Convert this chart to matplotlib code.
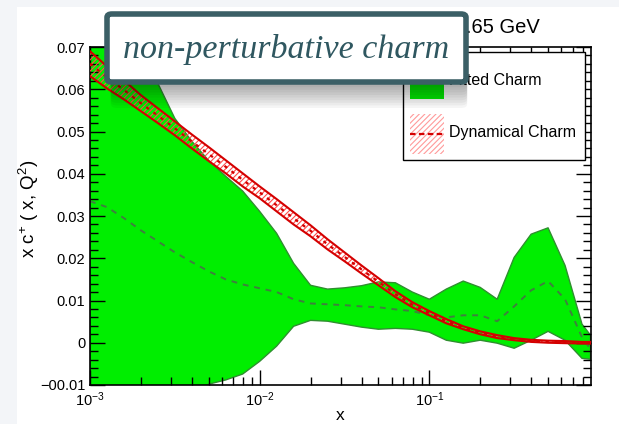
import numpy as np
import matplotlib
matplotlib.use("Agg")
import matplotlib.pyplot as plt
from matplotlib.patches import Rectangle, FancyBboxPatch
from matplotlib.ticker import LogLocator, MultipleLocator, FuncFormatter, NullFormatter

plt.rcParams['font.family'] = ['Liberation Sans', 'DejaVu Sans']
plt.rcParams['mathtext.fontset'] = 'custom'
plt.rcParams['mathtext.rm'] = 'Liberation Sans'
plt.rcParams['mathtext.it'] = 'Liberation Sans:italic'
plt.rcParams['hatch.linewidth'] = 0.8

# log10(x) grid
logx = [-3.0, -2.9, -2.8, -2.7, -2.6, -2.5, -2.4, -2.3, -2.2, -2.1, -2.0,
        -1.9, -1.8, -1.7, -1.6, -1.5, -1.4, -1.3, -1.2, -1.1, -1.0,
        -0.9, -0.8, -0.7, -0.6, -0.5, -0.4, -0.3, -0.2, -0.1, -0.05]
x = 10.0 ** np.array(logx)

# Fitted charm (green band + central value)
fit_up = [0.080, 0.074, 0.069, 0.065, 0.0614, 0.0531, 0.0477, 0.0431, 0.0394, 0.0359, 0.0311,
          0.0259, 0.0188, 0.0136, 0.0127, 0.0130, 0.0135, 0.0144, 0.0142, 0.0120, 0.0103,
          0.0127, 0.0146, 0.0131, 0.0103, 0.0202, 0.0257, 0.0272, 0.0183, 0.0044, 0.0018]
fit_lo = [-0.025, -0.024, -0.022, -0.020, -0.018, -0.015, -0.012, -0.0098, -0.0088, -0.0074, -0.0044,
          -0.0008, 0.0039, 0.0053, 0.0051, 0.0044, 0.0037, 0.0032, 0.0034, 0.0032, 0.0025,
          0.0006, -0.0001, 0.0006, -0.0001, -0.0013, 0.0006, 0.0027, 0.0006, -0.0037, -0.0039]
fit_cv = [0.0335, 0.0321, 0.0295, 0.0266, 0.0240, 0.0214, 0.0191, 0.0169, 0.0150, 0.0138, 0.0129,
          0.0120, 0.0103, 0.0093, 0.0091, 0.0089, 0.0086, 0.0084, 0.0079, 0.0075, 0.0065,
          0.0060, 0.0065, 0.0065, 0.0051, 0.0086, 0.0124, 0.0146, 0.0103, 0.0013, -0.0015]

# Dynamical charm (red band)
dyn_up = [0.0690, 0.0654, 0.0621, 0.0586, 0.0555, 0.0524, 0.0493, 0.0463, 0.0432, 0.0401, 0.0370,
          0.0340, 0.0309, 0.0278, 0.0245, 0.0214, 0.0183, 0.0153, 0.0122, 0.0096, 0.0075,
          0.0056, 0.0039, 0.0027, 0.0018, 0.0011, 0.0007, 0.0005, 0.0004, 0.0002, 0.0002]
dyn_lo = [0.0631, 0.0602, 0.0576, 0.0548, 0.0520, 0.0491, 0.0460, 0.0430, 0.0401, 0.0370, 0.0342,
          0.0311, 0.0280, 0.0252, 0.0221, 0.0193, 0.0164, 0.0136, 0.0108, 0.0084, 0.0065,
          0.0046, 0.0032, 0.0020, 0.0011, 0.0006, 0.0002, 0.0000, -0.0001, -0.0002, -0.0002]
dyn_cv = [(a + b) / 2 for a, b in zip(dyn_up, dyn_lo)]

green = '#00ee00'
green_edge = '#2f8f2f'
red = '#d40000'

fig = plt.figure(figsize=(6.19, 4.24), dpi=100)
fig.patch.set_facecolor('#f3f5f8')
# white slide panel
fig.patches.append(Rectangle((17 / 619, 0), 1, 1 - 7 / 424, transform=fig.transFigure,
                             facecolor='white', edgecolor='none', zorder=-5))

ax = fig.add_axes([90 / 619, 1 - 385 / 424, 501 / 619, 338 / 424])
ax.set_facecolor('white')

ax.fill_between(x, fit_lo, fit_up, facecolor=green, edgecolor=green_edge, linewidth=1.0, zorder=1)
ax.plot(x, fit_cv, color='#3f7f3f', linestyle=(0, (3, 3)), linewidth=1.4, zorder=2)

ax.fill_between(x, dyn_lo, dyn_up, facecolor='none', edgecolor='#ff4a4a', hatch='//////',
                linewidth=0, zorder=3)
ax.plot(x, dyn_up, color=red, linewidth=1.5, zorder=4)
ax.plot(x, dyn_lo, color=red, linewidth=1.5, zorder=4)
ax.plot(x, dyn_cv, color=red, linestyle=(0, (1.5, 2.5)), linewidth=1.6, zorder=4)

ax.set_xscale('log')
ax.set_xlim(1e-3, 10 ** -0.047)
ax.set_ylim(-0.01, 0.07)

ax.xaxis.set_major_locator(LogLocator(base=10, numticks=10))
ax.xaxis.set_minor_locator(LogLocator(base=10, subs=np.arange(2, 10), numticks=20))
ax.xaxis.set_minor_formatter(NullFormatter())
ax.yaxis.set_major_locator(MultipleLocator(0.01))
ax.yaxis.set_minor_locator(MultipleLocator(0.002))
ax.yaxis.set_major_formatter(FuncFormatter(lambda v, p: '0' if abs(v) < 1e-9 else ('%.2f' % v).replace('-', '\u22120')))
ax.tick_params(which='both', direction='in', top=True, right=True, labelsize=10.5, colors='black')
ax.tick_params(which='major', length=11, width=1.0)
ax.tick_params(which='minor', length=6, width=1.0)
ax.tick_params(axis='x', pad=4)
for s in ax.spines.values():
    s.set_linewidth(1.2)

ax.set_xlabel('x', fontsize=12.5, labelpad=-1)
ax.set_ylabel('x c$^{+}$ ( x, Q$^{2}$)', fontsize=13.5)
ax.yaxis.set_label_coords(-0.097, 0.52)

# legend box drawn in axes coordinates
T = ax.transAxes
ax.add_patch(Rectangle((0.6248, 0.6657), 0.3632, 0.3195, transform=T, facecolor='white',
                       edgecolor='black', linewidth=1.0, zorder=6))
ax.add_patch(Rectangle((0.6397, 0.846), 0.0659, 0.056, transform=T, facecolor=green,
                       edgecolor='none', zorder=7))
ax.add_patch(Rectangle((0.6397, 0.683), 0.0659, 0.119, transform=T, facecolor='none',
                       edgecolor='#ff9a9a', hatch='//////', linewidth=0, zorder=7))
ax.plot([0.6397, 0.7056], [0.7426, 0.7426], transform=T, color=red, linestyle=(0, (2.5, 1.5)),
        linewidth=1.6, zorder=8)
ax.text(0.7166, 0.900, 'Fitted Charm', transform=T, fontsize=11.5, va='center', ha='left', zorder=8)
ax.text(0.7166, 0.7485, 'Dynamical Charm', transform=T, fontsize=11.5, va='center', ha='left', zorder=8)

fig.text(540 / 619, 1 - 33 / 424, 'Q = 1.65 GeV', ha='right', va='baseline', fontsize=14.5)

# overlay label with soft shadow
x0, y0, w, h = 107 / 619, 1 - 82 / 424, 359 / 619, 68 / 424
for k in range(10):
    off = (k + 1) * 2.6 / 424
    fig.patches.append(FancyBboxPatch((x0 + 0.006, y0 - off), w - 0.004, h,
                                      boxstyle='round,pad=0,rounding_size=0.01',
                                      transform=fig.transFigure, facecolor='black',
                                      edgecolor='none', alpha=0.04, zorder=9))
fig.patches.append(FancyBboxPatch((x0, y0), w, h, boxstyle='round,pad=0,rounding_size=0.008',
                                  transform=fig.transFigure, facecolor='white',
                                  edgecolor='#3b5f66', linewidth=4.0, zorder=10))
fig.text(x0 + w / 2, y0 + h / 2 - 0.004, 'non-perturbative charm', ha='center', va='center',
         fontsize=24.5, style='italic', family=['Liberation Serif', 'DejaVu Serif'],
         color='#2f5760', zorder=11)

fig.savefig('out.png', dpi=100, facecolor=fig.get_facecolor())
